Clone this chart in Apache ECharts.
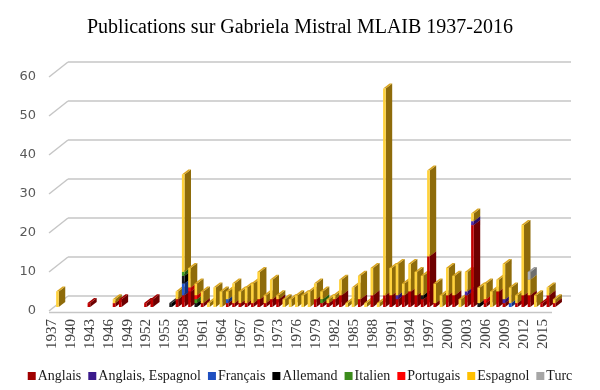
<!DOCTYPE html>
<html><head><meta charset="utf-8">
<script src="https://cdn.jsdelivr.net/npm/echarts@6/dist/echarts.min.js"></script>
<style>html,body{margin:0;padding:0;background:#fff}#c{width:600px;height:390px}</style>
</head><body><div id="c"></div>
<script>
// ---- data ----
const years = ['1937','1938','1939','1940','1941','1942','1943','1944','1945','1946',
'1947','1948','1949','1950','1951','1952','1953','1954','1955','1956',
'1957','1958','1959','1960','1961','1962','1963','1964','1965','1966',
'1967','1968','1969','1970','1971','1972','1973','1974','1975','1976',
'1977','1978','1979','1980','1981','1982','1983','1984','1985','1986',
'1987','1988','1989','1990','1991','1992','1993','1994','1995','1996',
'1997','1998','1999','2000','2001','2002','2003','2004','2005','2006',
'2007','2008','2009','2010','2011','2012','2013','2014','2015','2016'];
const yTicks = [0,10,20,30,40,50,60];
const seriesNames = ['Anglais','Anglais, Espagnol','Français','Allemand','Italien','Portugais','Espagnol','Turc'];
const anglais = [0,0,0,0,0,1,0,0,0,1, 2,0,0,0,1,2,0,0,0,2, 3,4,0,1,0,0,0,1,1,1, 1,1,2,1,2,2,0,0,0,0,
                 0,2,1,1,2,3,0,0,2,0, 3,0,3,3,2,3,4,3,2,13, 1,0,3,3,0,3,21,0,1,0, 4,1,0,1,3,3,0,1,3,1];
const anglaisEspagnol = [0,0,0,0,0,0,0,0,0,0, 0,0,0,0,0,0,0,0,0,0, 0,0,0,0,0,0,0,0,0,0, 0,0,0,0,0,0,0,0,0,0,
                 0,0,0,0,0,0,0,0,0,0, 0,0,0,0,1,0,0,0,0,0, 0,0,0,0,0,1,1,0,0,0, 0,1,0,0,0,0,0,0,0,0];
const francais = [0,0,0,0,0,0,0,0,0,0, 0,0,0,0,0,0,0,0,0,0, 3,0,0,0,0,0,0,1,0,0, 0,0,0,0,0,0,0,0,0,0,
                 0,0,0,0,0,0,0,0,0,0, 0,0,0,0,0,0,0,0,0,0, 0,0,0,0,0,0,0,0,0,0, 0,0,1,0,0,0,0,0,0,0];
const allemand = [0,0,0,0,0,0,0,0,0,0, 0,0,0,0,0,0,0,0,1,0, 2,0,1,0,0,0,0,0,0,0, 0,0,0,0,0,0,0,0,0,0,
                 0,0,0,0,0,0,0,0,0,0, 0,0,0,0,0,0,0,0,1,0, 0,0,0,0,0,0,0,1,0,0, 0,0,0,0,0,0,0,0,0,0];
const italien = [0,0,0,0,0,0,0,0,0,0, 0,0,0,0,0,0,0,0,0,0, 1,0,1,0,0,0,0,0,0,0, 0,0,0,0,0,0,0,0,0,0,
                 0,0,1,0,0,0,0,0,0,0, 0,0,0,0,0,0,0,0,0,0, 0,0,0,0,0,0,0,0,0,0, 0,0,0,0,0,0,0,0,0,0];
const portugais = [0,0,0,0,0,0,0,0,0,0, 0,0,0,0,0,0,0,0,0,0, 0,1,1,0,0,0,0,0,0,0, 0,0,0,0,0,0,0,0,0,0,
                 0,0,0,0,0,0,0,0,0,0, 0,0,0,0,0,0,0,0,0,0, 0,0,0,0,0,0,0,0,1,0, 0,0,0,0,0,0,0,0,0,0];
const espagnol = [4,0,0,0,0,0,0,0,0,1, 0,0,0,0,0,0,0,0,0,2, 25,5,3,3,1,5,4,2,5,3, 4,5,7,2,5,1,2,2,3,3,
                 4,4,2,1,1,4,1,5,6,1, 7,1,53,7,8,3,7,6,5,22, 5,3,7,5,2,5,2,4,4,4, 3,9,4,2,18,4,3,0,2,1];
const turc = [0,0,0,0,0,0,0,0,0,0, 0,0,0,0,0,0,0,0,0,0, 0,0,0,0,0,0,0,0,0,0, 0,0,0,0,0,0,0,0,0,0,
                 0,0,0,0,0,0,0,0,0,0, 0,0,0,0,0,0,0,0,0,0, 0,0,0,0,0,0,0,0,0,0, 0,0,0,0,0,2,0,0,0,0];
const seriesValues = [anglais, anglaisEspagnol, francais, allemand, italien, portugais, espagnol, turc];

// ---- styles ----
const legendColors = ['#A00000','#3A1A8C','#1F4FC0','#000000','#3C8C1C','#FF0000','#FFC000','#A6A6A6'];
const shades = [
  {front:'#C00000', side:'#6E0000', top:'#A00000'},
  {front:'#4B2BAA', side:'#2A0F66', top:'#3A1A8C'},
  {front:'#2458D0', side:'#12307A', top:'#1F4FC0'},
  {front:'#1A1A1A', side:'#000000', top:'#333333'},
  {front:'#44A020', side:'#245A10', top:'#3C8C1C'},
  {front:'#FF1010', side:'#B00000', top:'#E00000'},
  {front:'#FFD23C', side:'#8E6B0A', top:'#D9A520'},
  {front:'#B0B0B0', side:'#6E6E6E', top:'#999999'}
];
const FX = 4, FW = 2.6, DX = 6.5, DY = -5, OY = -4;   // bar prism geometry
const BX = 19, BY = -15;                               // back wall offset
const GRID_COLOR = '#C6C6C6';

// stacked segments
const cum = years.map(() => 0);
const stackedData = seriesValues.map(arr => {
  const out = [];
  arr.forEach((v, i) => {
    if (v > 0) { out.push([i, cum[i], cum[i] + v]); }
    cum[i] += v;
  });
  return out;
});

function makeBarRenderer(s) {
  const sh = shades[s];
  return function (params, api) {
    const i = api.value(0), v0 = api.value(1), v1 = api.value(2);
    const p0 = api.coord([i, v0]);
    const p1 = api.coord([i, v1]);
    const fx = p0[0] + FX;
    const yb = p0[1] + OY, yt = p1[1] + OY;
    const z2 = i * 10 + s;
    return {
      type: 'group',
      children: [
        {type:'polygon', z2: z2, shape:{points:[[fx+FW,yt],[fx+FW+DX,yt+DY],[fx+FW+DX,yb+DY],[fx+FW,yb]]}, style:{fill: sh.side}},
        {type:'polygon', z2: z2, shape:{points:[[fx,yt],[fx+FW,yt],[fx+FW+DX,yt+DY],[fx+DX,yt+DY]]}, style:{fill: sh.top}},
        {type:'rect', z2: z2, shape:{x:fx, y:yt, width:FW, height:yb-yt}, style:{fill: sh.front}}
      ]
    };
  };
}

function renderFrame(params, api) {
  const v = api.value(1);
  const cs = params.coordSys;
  const y = api.coord([0, v])[1];
  const L = cs.x, R = cs.x + cs.width;
  const st = {stroke: GRID_COLOR, lineWidth: 1.5};
  const children = [
    {type:'line', shape:{x1:L+BX, y1:y+BY, x2:R+BX, y2:y+BY}, style:st},
    {type:'line', shape:{x1:L, y1:y, x2:L+BX, y2:y+BY}, style:st}
  ];
  if (v === 0) {
    children.push({type:'line', shape:{x1:L, y1:y+1.5, x2:R, y2:y+1.5}, style:st});
  }
  return {type:'group', children};
}

const series = [{
  type: 'custom', name: '_frame', silent: true, z: 1,
  coordinateSystem: 'cartesian2d',
  data: yTicks.map(v => [0, v]),
  encode: {x: 0, y: 1},
  renderItem: renderFrame
}];
seriesNames.forEach((name, s) => {
  series.push({
    type: 'custom', name: name, z: 2,
    coordinateSystem: 'cartesian2d',
    itemStyle: {color: legendColors[s]},
    data: stackedData[s],
    encode: {x: 0, y: [1, 2]},
    renderItem: makeBarRenderer(s)
  });
});

const chart = echarts.init(document.getElementById('c'), null, {renderer: 'canvas'});
chart.setOption({
  animation: false,
  backgroundColor: '#ffffff',
  color: legendColors,
  title: {
    text: 'Publications sur Gabriela Mistral MLAIB 1937-2016',
    left: 'center', top: 13,
    textStyle: {fontFamily: 'Liberation Serif', fontSize: 20, fontWeight: 'normal', color: '#000'}
  },
  legend: {
    data: seriesNames,
    left: 'center', top: 364,
    icon: 'rect', itemWidth: 8, itemHeight: 8, itemGap: 7,
    textStyle: {fontFamily: 'Liberation Serif', fontSize: 14, color: '#1a1a1a', padding: [0,0,0,-3]}
  },
  grid: {left: 49, right: 48, top: 77, bottom: 79, containLabel: false},
  xAxis: {
    type: 'category', data: years,
    axisLine: {show: false}, axisTick: {show: false},
    axisLabel: {interval: 2, rotate: 90, margin: 8, fontFamily: 'Liberation Serif', fontSize: 15, color: '#404040'},
    splitLine: {show: false}
  },
  yAxis: {
    type: 'value', min: 0, max: 60, interval: 10,
    axisLine: {show: false}, axisTick: {show: false}, splitLine: {show: false},
    axisLabel: {margin: 13, fontFamily: 'DejaVu Sans', fontSize: 13, color: '#595959'}
  },
  series: series
});
</script>
</body></html>
